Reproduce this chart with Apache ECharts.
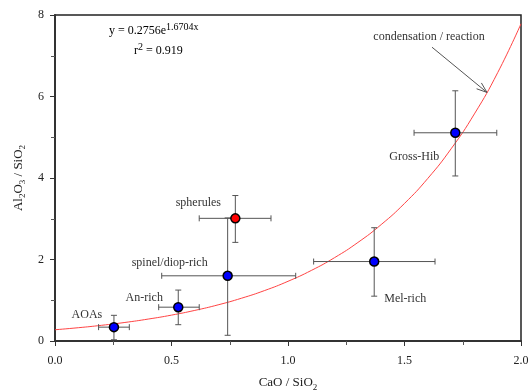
<!DOCTYPE html>
<html>
<head>
<meta charset="utf-8">
<script src="https://cdn.jsdelivr.net/npm/echarts@6/dist/echarts.min.js"></script>
<style>
html, body { margin: 0; padding: 0; background: #fff; }
#chart { width: 530px; height: 392px; }
</style>
</head>
<body>
<div id="chart"></div>
<script>
// groups of inclusions: mean and range of each ratio
var names = ['AOAs', 'An-rich', 'spinel/diop-rich', 'spherules', 'Mel-rich', 'Gross-Hib'];
var xVals = [0.253, 0.529, 0.741, 0.774, 1.370, 1.718];
var yVals = [0.34, 0.83, 1.60, 3.01, 1.95, 5.11];
var xLow = [0.187, 0.445, 0.458, 0.619, 1.110, 1.541];
var xHigh = [0.319, 0.619, 1.033, 0.927, 1.631, 1.896];
var yLow = [0.03, 0.40, 0.14, 2.42, 1.10, 4.05];
var yHigh = [0.63, 1.25, 3.02, 3.57, 2.78, 6.14];

// fitted curve y = 0.2756 e^(1.6704 x), values read at 0.1 steps
var curveX = [0, 0.1, 0.2, 0.3, 0.4, 0.5, 0.6, 0.7, 0.8, 0.9, 1.0,
              1.1, 1.2, 1.3, 1.4, 1.5, 1.6, 1.7, 1.8, 1.9, 2.0];
var curveY = [0.276, 0.326, 0.385, 0.455, 0.538, 0.635, 0.751, 0.887, 1.049, 1.239, 1.465,
              1.731, 2.046, 2.418, 2.857, 3.376, 3.990, 4.716, 5.573, 6.586, 7.784];

// arrow from the "condensation / reaction" note to the curve
var arrowFrom = [1.618, 7.21];
var arrowTo = [1.854, 6.10];

// styling per point (kept apart from the values)
var pointColors = ['#0000ff', '#0000ff', '#0000ff', '#ff0000', '#0000ff', '#0000ff'];
var labelOffsets = [[-27, -12], [-34, -9], [-58, -13], [-37, -15], [31, 37], [-41, 24]];

var FONT = 'Liberation Serif';
var chart = echarts.init(document.getElementById('chart'));

var barData = names.map(function (n, i) {
  return [xVals[i], yVals[i], xLow[i], xHigh[i], yLow[i], yHigh[i]];
});
var pointData = names.map(function (n, i) {
  return {
    name: n,
    value: [xVals[i], yVals[i]],
    itemStyle: { color: pointColors[i] },
    label: { offset: labelOffsets[i] }
  };
});
var subRich = {
  b: { fontFamily: FONT, fontSize: 13, color: '#222', lineHeight: 18 },
  u: { fontFamily: FONT, fontSize: 9, color: '#222', lineHeight: 10, verticalAlign: 'bottom' }
};
var supRich = {
  a: { fontFamily: FONT, fontSize: 12, color: '#222', lineHeight: 18 },
  s: { fontFamily: FONT, fontSize: 10, color: '#222', lineHeight: 10, verticalAlign: 'top' }
};

var option = {
  animation: false,
  backgroundColor: '#fff',
  grid: {
    left: 55, right: 9, top: 15, bottom: 51, containLabel: false, outerBoundsMode: 'none',
    show: true, borderColor: '#222', borderWidth: 1.5
  },
  xAxis: {
    type: 'value', min: 0, max: 2, interval: 0.5,
    name: '{b|CaO / SiO}{u|2}', nameLocation: 'middle', nameGap: 33,
    nameTextStyle: { rich: subRich },
    axisLine: { lineStyle: { color: '#333', width: 2 } },
    axisTick: { inside: false, length: 5, lineStyle: { color: '#333' } },
    minorTick: { show: true, splitNumber: 2, length: 4, lineStyle: { color: '#555' } },
    splitLine: { show: false },
    axisLabel: { margin: 14, fontFamily: FONT, fontSize: 12, color: '#222',
      formatter: function (v) { return v.toFixed(1); } }
  },
  yAxis: {
    type: 'value', min: 0, max: 8, interval: 2,
    name: '{b|Al}{u|2}{b|O}{u|3}{b| / SiO}{u|2}', nameLocation: 'middle', nameGap: 27,
    nameTextStyle: { rich: subRich },
    axisLine: { lineStyle: { color: '#333', width: 2 } },
    axisTick: { inside: false, length: 5, lineStyle: { color: '#333' } },
    minorTick: { show: true, splitNumber: 2, length: 4, lineStyle: { color: '#555' } },
    splitLine: { show: false },
    axisLabel: { margin: 11, fontFamily: FONT, fontSize: 12, color: '#222' }
  },
  graphic: [
    {
      type: 'text', left: 109, top: 22,
      style: { text: '{a|y = 0.2756e}{s|1.6704x}', rich: supRich }
    },
    {
      type: 'text', left: 134, top: 42,
      style: { text: '{a|r}{s|2}{a| = 0.919}', rich: supRich }
    }
  ],
  series: [
    {
      type: 'line', data: curveX.map(function (x, i) { return [x, curveY[i]]; }),
      smooth: true, showSymbol: false, silent: true, z: 1,
      lineStyle: { color: '#ff4444', width: 1 }
    },
    {
      type: 'custom', data: barData, z: 2, silent: true,
      renderItem: function (params, api) {
        var c = api.coord([api.value(0), api.value(1)]);
        var l = api.coord([api.value(2), api.value(1)]);
        var r = api.coord([api.value(3), api.value(1)]);
        var b = api.coord([api.value(0), api.value(4)]);
        var t = api.coord([api.value(0), api.value(5)]);
        var cap = 3;
        var st = { stroke: '#555', lineWidth: 1 };
        var seg = function (x1, y1, x2, y2) {
          return { type: 'line', shape: { x1: x1, y1: y1, x2: x2, y2: y2 }, style: st };
        };
        return {
          type: 'group',
          children: [
            seg(l[0], c[1], r[0], c[1]),
            seg(l[0], c[1] - cap, l[0], c[1] + cap),
            seg(r[0], c[1] - cap, r[0], c[1] + cap),
            seg(c[0], b[1], c[0], t[1]),
            seg(c[0] - cap, b[1], c[0] + cap, b[1]),
            seg(c[0] - cap, t[1], c[0] + cap, t[1])
          ]
        };
      }
    },
    {
      type: 'scatter', data: pointData, z: 3, symbolSize: 9,
      itemStyle: { borderColor: '#000', borderWidth: 1.5, opacity: 1 },
      label: {
        show: true, position: 'inside', formatter: '{b}',
        fontFamily: FONT, fontSize: 12, color: '#333'
      }
    },
    {
      type: 'custom', data: [[arrowFrom[0], arrowFrom[1], arrowTo[0], arrowTo[1]]], z: 4, silent: true,
      renderItem: function (params, api) {
        var p1 = api.coord([api.value(0), api.value(1)]);
        var p2 = api.coord([api.value(2), api.value(3)]);
        var ang = Math.atan2(p2[1] - p1[1], p2[0] - p1[0]);
        var hl = 11, ha = 0.35;
        var h1 = [p2[0] - hl * Math.cos(ang - ha), p2[1] - hl * Math.sin(ang - ha)];
        var h2 = [p2[0] - hl * Math.cos(ang + ha), p2[1] - hl * Math.sin(ang + ha)];
        var st = { stroke: '#555', lineWidth: 1, fill: null };
        return {
          type: 'group',
          children: [
            { type: 'line', shape: { x1: p1[0], y1: p1[1], x2: p2[0], y2: p2[1] }, style: st },
            { type: 'polyline', shape: { points: [h1, p2, h2] }, style: st },
            { type: 'text', x: p1[0] - 3, y: p1[1] - 10,
              style: { text: 'condensation / reaction', fontFamily: FONT, fontSize: 12, fill: '#333',
                align: 'center', verticalAlign: 'middle' } }
          ]
        };
      }
    }
  ]
};
chart.setOption(option);
</script>
</body>
</html>
